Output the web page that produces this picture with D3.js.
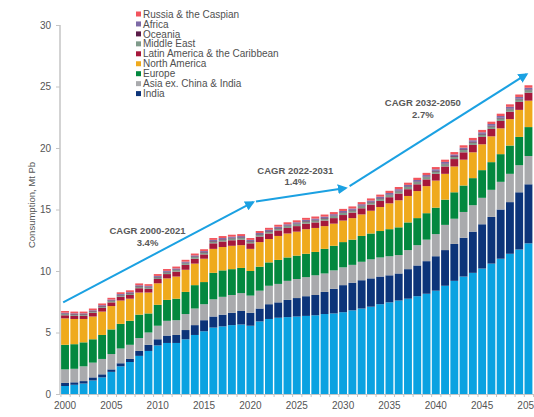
<!DOCTYPE html>
<html>
<head>
<meta charset="utf-8">
<script src="https://cdn.jsdelivr.net/npm/d3@7"></script>
<style>
  body { margin: 0; background: #fff; }
  svg { font-family: "Liberation Sans", Arial, sans-serif; }
  .axis path, .axis line { stroke: #c4c4c4; }
  .axis text { fill: #555; font-size: 10px; }
</style>
</head>
<body>
<script>
var W = 534, H = 417;

// years on the x axis
var years = d3.range(2000, 2051);
var yTicks = [0, 5, 10, 15, 20, 25, 30];
var xLabels = [2000, 2005, 2010, 2015, 2020, 2025, 2030, 2035, 2040, 2045, 2050];

// consumption by region, Mt Pb
var china = [0.65,0.75,0.85,1.1,1.35,1.8,2.25,2.6,3.1,3.5, 3.95,4.15,4.15,4.45,4.8,5.1,5.4,5.5,5.6,5.65,
  5.55,5.9,6.1,6.2,6.25,6.3,6.35,6.4,6.5,6.55, 6.65,6.8,6.95,7.1,7.3,7.45,7.6,7.75,7.95,8.15,
  8.4,8.8,9.2,9.55,9.85,10.2,10.6,11.0,11.4,11.75, 12.25];
var india = [0.25,0.2,0.2,0.25,0.25,0.2,0.25,0.25,0.4,0.5, 0.5,0.6,0.65,0.75,0.8,0.9,0.9,0.95,1.0,1.1,
  1.05,1.05,1.2,1.25,1.4,1.5,1.6,1.65,1.8,2.0, 2.2,2.25,2.3,2.3,2.25,2.2,2.2,2.4,2.5,2.65,
  2.8,2.9,3.0,3.15,3.35,3.6,3.8,4.0,4.2,4.65, 4.8];
var asiaEx = [1.1,1.1,1.2,1.2,1.25,1.25,1.2,1.15,1.05,1.0, 1.1,1.2,1.2,1.3,1.35,1.3,1.4,1.45,1.45,1.45,
  1.4,1.45,1.5,1.5,1.55,1.55,1.55,1.6,1.5,1.5, 1.45,1.45,1.5,1.55,1.55,1.55,1.5,1.55,1.65,1.75,
  1.8,2.05,2.05,2.1,2.15,2.15,2.2,2.25,2.3,2.2, 2.3];
var europe = [2.0,2.0,1.95,1.9,1.95,2.0,2.0,1.95,1.9,1.55, 1.7,1.7,1.75,1.8,1.9,1.8,2.15,2.15,2.1,2.05,
  2.0,1.95,1.9,1.95,1.9,1.9,1.9,1.9,2.0,2.0, 2.05,2.05,2.1,2.1,2.15,2.2,2.25,2.25,2.2,2.15,
  2.15,2.05,2.15,2.15,2.2,2.25,2.25,2.25,2.3,2.3, 2.35];
var northAmerica = [2.15,2.05,1.9,1.85,1.9,1.9,1.9,1.8,1.8,1.7, 1.75,1.75,1.8,1.8,1.75,1.9,1.95,1.9,1.9,1.85,
  1.8,2.0,1.9,1.95,1.95,1.95,2.0,1.95,1.85,1.8, 1.75,1.75,1.75,1.85,1.95,2.1,2.2,2.15,2.2,2.2,
  2.2,2.1,2.1,2.1,2.1,2.1,2.1,2.1,2.15,2.2, 2.15];
var latAm = [0.25,0.25,0.25,0.3,0.3,0.3,0.3,0.3,0.35,0.3, 0.35,0.35,0.4,0.4,0.4,0.35,0.45,0.45,0.45,0.45,
  0.45,0.45,0.45,0.45,0.45,0.45,0.45,0.45,0.45,0.45, 0.45,0.45,0.5,0.5,0.5,0.5,0.55,0.55,0.55,0.55,
  0.55,0.6,0.6,0.6,0.6,0.6,0.6,0.6,0.6,0.65, 0.65];
var middleEast = [0.1,0.1,0.1,0.1,0.1,0.11,0.11,0.11,0.12,0.12, 0.12,0.13,0.13,0.13,0.14,0.14,0.14,0.14,0.15,0.15,
  0.14,0.15,0.15,0.15,0.15,0.16,0.16,0.16,0.16,0.16, 0.17,0.17,0.17,0.17,0.17,0.17,0.18,0.18,0.18,0.18,
  0.18,0.18,0.19,0.19,0.19,0.19,0.2,0.2,0.2,0.2, 0.2];
var oceania = [0.05,0.05,0.05,0.05,0.05,0.05,0.05,0.05,0.05,0.05, 0.05,0.05,0.05,0.05,0.05,0.05,0.05,0.05,0.05,0.05,
  0.05,0.05,0.05,0.05,0.05,0.05,0.05,0.05,0.05,0.05, 0.05,0.05,0.05,0.05,0.05,0.05,0.05,0.05,0.05,0.05,
  0.06,0.06,0.06,0.06,0.06,0.06,0.06,0.06,0.06,0.06, 0.06];
var africa = [0.06,0.06,0.06,0.06,0.07,0.07,0.07,0.07,0.07,0.07, 0.08,0.08,0.08,0.08,0.08,0.08,0.09,0.09,0.09,0.09,
  0.09,0.09,0.1,0.1,0.1,0.1,0.1,0.1,0.11,0.11, 0.11,0.11,0.11,0.11,0.12,0.12,0.12,0.12,0.12,0.12,
  0.13,0.13,0.13,0.13,0.13,0.13,0.14,0.14,0.14,0.14, 0.14];
var russia = [0.14,0.14,0.14,0.14,0.14,0.14,0.14,0.15,0.15,0.14, 0.15,0.15,0.15,0.15,0.15,0.15,0.15,0.16,0.16,0.16,
  0.15,0.16,0.16,0.16,0.16,0.16,0.16,0.17,0.17,0.17, 0.17,0.17,0.17,0.17,0.17,0.18,0.18,0.18,0.18,0.18,
  0.18,0.18,0.19,0.19,0.19,0.19,0.19,0.19,0.2,0.2, 0.2];

var keys = ['China', 'India', 'Asia ex. China & India', 'Europe', 'North America',
  'Latin America & the Caribbean', 'Middle East', 'Oceania', 'Africa', 'Russia & the Caspian'];
var seriesValues = [china, india, asiaEx, europe, northAmerica, latAm, middleEast, oceania, africa, russia];
var colors = ['#0aa2e1', '#0c3479', '#a9aaad', '#03883f', '#efaa1d',
  '#a6183b', '#7f9a8a', '#5a1c48', '#7d6aa6', '#f2545d'];

var rows = years.map(function(y, i) {
  var r = { year: y };
  keys.forEach(function(k, j) { r[k] = seriesValues[j][i]; });
  return r;
});

var svg = d3.select('body').append('svg')
  .attr('width', W)
  .attr('height', H);

var x = d3.scaleBand()
  .domain(years)
  .range([60.4, 533.1])
  .paddingInner(0.15)
  .paddingOuter(0.075);

var xEdge = d3.scaleLinear()
  .domain([1999.5, 2050.5])
  .range([60.4, 533.1]);

var y = d3.scaleLinear()
  .domain([0, 30])
  .range([394, 25]);

var colorScale = d3.scaleOrdinal().domain(keys).range(colors);

var stacked = d3.stack().keys(keys)(rows);

// bars
svg.append('g')
  .selectAll('g')
  .data(stacked)
  .enter().append('g')
  .attr('fill', function(d) { return colorScale(d.key); })
  .selectAll('rect')
  .data(function(d) { return d; })
  .enter().append('rect')
  .attr('x', function(d) { return x(d.data.year); })
  .attr('width', x.bandwidth())
  .attr('y', function(d) { return y(d[1]); })
  .attr('height', function(d) { return y(d[0]) - y(d[1]); });

// y axis
var yAxis = svg.append('g')
  .attr('class', 'axis')
  .attr('transform', 'translate(60,0)')
  .call(d3.axisLeft(y).tickValues(yTicks).tickSize(4).tickPadding(5));
yAxis.select('.domain').attr('stroke-width', 1.5).attr('d', 'M0,' + y(30) + 'V' + y(0));

// x axis: small ticks between bars
var xTickAxis = svg.append('g')
  .attr('class', 'axis')
  .attr('transform', 'translate(0,394)')
  .call(d3.axisBottom(xEdge).tickValues(d3.range(1999.5, 2051, 1)).tickFormat('').tickSize(3).tickSizeOuter(0));
xTickAxis.select('.domain').attr('stroke-width', 1.2);

svg.append('g')
  .attr('class', 'axis')
  .attr('transform', 'translate(0,396)')
  .call(d3.axisBottom(x).tickValues(xLabels).tickSize(0).tickPadding(6))
  .call(function(g) { g.select('.domain').remove(); });

// y label
svg.append('text')
  .attr('transform', 'translate(35,' + 205 + ') rotate(-90)')
  .attr('text-anchor', 'middle')
  .style('font-size', '9.5px')
  .style('fill', '#555')
  .text('Consumption, Mt Pb');

// legend
var legendKeys = keys.slice(1).reverse();
var legend = svg.append('g').attr('transform', 'translate(136,14)');
legendKeys.forEach(function(k, i) {
  var g = legend.append('g').attr('transform', 'translate(0,' + (i * 9.95) + ')');
  g.append('rect').attr('x', 0).attr('y', -2.5).attr('width', 5).attr('height', 5)
    .attr('fill', colorScale(k));
  g.append('text').attr('x', 7).attr('y', 3.6)
    .style('font-size', '10px').style('fill', '#505050').text(k);
});

// CAGR arrows
svg.append('defs').append('marker')
  .attr('id', 'arrow')
  .attr('viewBox', '0 0 10 10')
  .attr('refX', 8).attr('refY', 5)
  .attr('markerWidth', 5).attr('markerHeight', 5)
  .attr('orient', 'auto')
  .append('path').attr('d', 'M0,0L10,5L0,10z').attr('fill', '#1ba1e2');

var arrows = [
  { x1: 1999.8, y1: 7.45, x2: 2020.3, y2: 15.6 },
  { x1: 2020.6, y1: 15.65, x2: 2030.3, y2: 16.75 },
  { x1: 2030.7, y1: 16.9, x2: 2049.8, y2: 26.0 }
];
svg.append('g').selectAll('line')
  .data(arrows)
  .enter().append('line')
  .attr('x1', function(d) { return xEdge(d.x1); })
  .attr('y1', function(d) { return y(d.y1); })
  .attr('x2', function(d) { return xEdge(d.x2); })
  .attr('y2', function(d) { return y(d.y2); })
  .attr('stroke', '#1ba1e2')
  .attr('stroke-width', 2)
  .attr('marker-end', 'url(#arrow)');

var notes = [
  { x: 2008.9, y: 13.0, lines: ['CAGR 2000-2021', '3.4%'] },
  { x: 2024.85, y: 17.9, lines: ['CAGR 2022-2031', '1.4%'] },
  { x: 2038.6, y: 23.4, lines: ['CAGR 2032-2050', '2.7%'] }
];
notes.forEach(function(n) {
  var t = svg.append('text')
    .attr('x', xEdge(n.x))
    .attr('y', y(n.y))
    .attr('text-anchor', 'middle')
    .style('font-size', '9.5px')
    .style('font-weight', 'bold')
    .style('fill', '#595959');
  n.lines.forEach(function(l, i) {
    t.append('tspan').attr('x', xEdge(n.x)).attr('dy', i ? 11.5 : 0).text(l);
  });
});
</script>
</body>
</html>
